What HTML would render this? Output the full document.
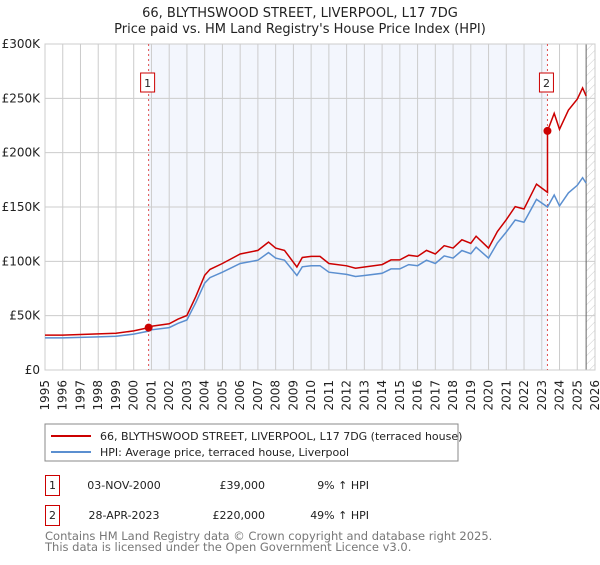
<!DOCTYPE html>
<html><head><meta charset="utf-8"><style>
body{margin:0;background:#fff;font-family:"Liberation Sans","DejaVu Sans",sans-serif}
svg text{font-family:"DejaVu Sans","Liberation Sans",sans-serif}
</style></head><body>
<svg id="c" width="600" height="560" xmlns="http://www.w3.org/2000/svg">
<defs><pattern id="hatch" width="6" height="6" patternUnits="userSpaceOnUse" patternTransform="rotate(45)"><line x1="0" y1="0" x2="0" y2="6" stroke="#ccc" stroke-width="1"/></pattern></defs>
<text x="300" y="17" text-anchor="middle" font-size="13" fill="#222">66, BLYTHSWOOD STREET, LIVERPOOL, L17 7DG</text>
<text x="300" y="33" text-anchor="middle" font-size="13" fill="#222">Price paid vs. HM Land Registry's House Price Index (HPI)</text>
<g id="plot"></g>
<rect x="45" y="424" width="413" height="37" fill="#fff" stroke="#888"/>
<line x1="51" y1="436" x2="91" y2="436" stroke="#cc0000" stroke-width="2"/>
<text x="100" y="440" font-size="11" fill="#222">66, BLYTHSWOOD STREET, LIVERPOOL, L17 7DG (terraced house)</text>
<line x1="51" y1="452" x2="91" y2="452" stroke="#5b8fd0" stroke-width="2"/>
<text x="100" y="456" font-size="11" fill="#222">HPI: Average price, terraced house, Liverpool</text>
<g font-size="11" fill="#222">
<rect x="45.5" y="475.5" width="14" height="20" fill="#fff" stroke="#cc0000"/><text x="52.5" y="489" text-anchor="middle">1</text>
<text x="124" y="489" text-anchor="middle">03-NOV-2000</text><text x="265" y="489" text-anchor="end">£39,000</text><text x="369" y="489" text-anchor="end">9% ↑ HPI</text></g>
<g font-size="11" fill="#222">
<rect x="45.5" y="505.5" width="14" height="20" fill="#fff" stroke="#cc0000"/><text x="52.5" y="519" text-anchor="middle">2</text>
<text x="124" y="519" text-anchor="middle">28-APR-2023</text><text x="265" y="519" text-anchor="end">£220,000</text><text x="369" y="519" text-anchor="end">49% ↑ HPI</text></g>
<text x="45" y="540" font-size="11.5" fill="#777">Contains HM Land Registry data © Crown copyright and database right 2025.</text>
<text x="45" y="551" font-size="11.5" fill="#777">This data is licensed under the Open Government Licence v3.0.</text>
</svg>
<script>
const hpiYears=[1995,1996,1997,1998,1999,2000,2000.84,2001,2002,2002.5,2003,2003.5,2004,2004.3,2005,2006,2007,2007.6,2008,2008.5,2009.2,2009.5,2010,2010.5,2011,2012,2012.5,2013,2014,2014.5,2015,2015.5,2016,2016.5,2017,2017.5,2018,2018.5,2019,2019.3,2020,2020.5,2021,2021.5,2022,2022.7,2023.32,2023.7,2024,2024.5,2025,2025.3,2025.5];
const hpiValues=[29.5,29.5,30,30.5,31,33,35.8,37,39,43,46,62,80,85,90,98,101,108,103,101,87,95,96,96,90,88,86,87,89,93,93,97,96,101,98,105,103,110,107,113,103,117,127,138,136,157,150,161,151,163,170,177,172];
const saleYears=[2000.84,2023.32];
const salePrices=[39,220];
const yTicks=[0,50,100,150,200,250,300];
const yTickLabels=["£0","£50K","£100K","£150K","£200K","£250K","£300K"];
const xYears=[];for(let y=1995;y<=2026;y++)xYears.push(y);
const X0=45,X1=595,Y0=370,Y1=44;
const xs=y=>X0+(y-1995)*(X1-X0)/31, ys=v=>Y0-v*(Y0-Y1)/300;
const g=document.getElementById('plot'),NS="http://www.w3.org/2000/svg";
function el(t,a,p){const e=document.createElementNS(NS,t);for(const k in a)e.setAttribute(k,a[k]);(p||g).appendChild(e);return e;}
let e;
e=el('rect',{x:xs(saleYears[0]),y:Y1,width:xs(saleYears[1])-xs(saleYears[0]),height:Y0-Y1,fill:'#f3f6fd'});


e=el('rect',{x:xs(2025.5),y:Y1,width:X1-xs(2025.5),height:Y0-Y1,fill:'url(#hatch)'});


xYears.forEach(y=>{e=el('line',{x1:xs(y),x2:xs(y),y1:Y1,y2:Y0,stroke:'#ccc','stroke-width':1});


const t=el('text',{x:0,y:0,'font-size':12,fill:'#222','text-anchor':'end',transform:`translate(${xs(y)+4},${Y0+10}) rotate(-90)`});t.textContent=y;

});
yTicks.forEach((v,i)=>{e=el('line',{x1:X0,x2:X1,y1:ys(v),y2:ys(v),stroke:'#ccc','stroke-width':1});


const t=el('text',{x:X0-5,y:ys(v)+4,'font-size':12,fill:'#222','text-anchor':'end'});t.textContent=yTickLabels[i];

});
e=el('line',{x1:xs(2025.5),x2:xs(2025.5),y1:Y1,y2:Y0,stroke:'#666','stroke-width':1});


e=el('rect',{x:X0,y:Y1,width:X1-X0,height:Y0-Y1,fill:'none',stroke:'#ccc'});


function interp(y){for(let i=1;i<hpiYears.length;i++)if(y<=hpiYears[i]){const f=(y-hpiYears[i-1])/(hpiYears[i]-hpiYears[i-1]);return hpiValues[i-1]+f*(hpiValues[i]-hpiValues[i-1]);}return hpiValues[hpiValues.length-1];}
saleYears.forEach((s,i)=>{e=el('line',{x1:xs(s),x2:xs(s),y1:Y1,y2:Y0,stroke:'#e05050','stroke-width':1,'stroke-dasharray':'2,3'});


const r=el('rect',{x:xs(s)-8,y:73,width:14,height:19,fill:'#fff',stroke:'#cc0000'});


const t=el('text',{x:xs(s)-1,y:87,'font-size':11,fill:'#222','text-anchor':'middle'});t.textContent=i+1;

});
let bp=hpiYears.map((y,i)=>xs(y).toFixed(1)+','+ys(hpiValues[i]).toFixed(1)).join(' ');
e=el('polyline',{points:bp,fill:'none',stroke:'#5b8fd0','stroke-width':1.5});


const rp=[];
hpiYears.forEach((y,i)=>{let k=y<saleYears[1]?0:1;const f=salePrices[k]/interp(saleYears[k]);
if(k===1&&hpiYears[i-1]<saleYears[1]){rp.push([saleYears[1],interp(saleYears[1])*salePrices[0]/interp(saleYears[0])]);rp.push([saleYears[1],salePrices[1]]);}
if(y!==saleYears[1])rp.push([y,hpiValues[i]*f]);});
e=el('polyline',{points:rp.map(p=>xs(p[0]).toFixed(1)+','+ys(p[1]).toFixed(1)).join(' '),fill:'none',stroke:'#cc0000','stroke-width':1.5});


saleYears.forEach((s,i)=>{e=el('circle',{cx:xs(s),cy:ys(salePrices[i]),r:4,fill:'#cc0000'});

});
</script>
</body></html>
